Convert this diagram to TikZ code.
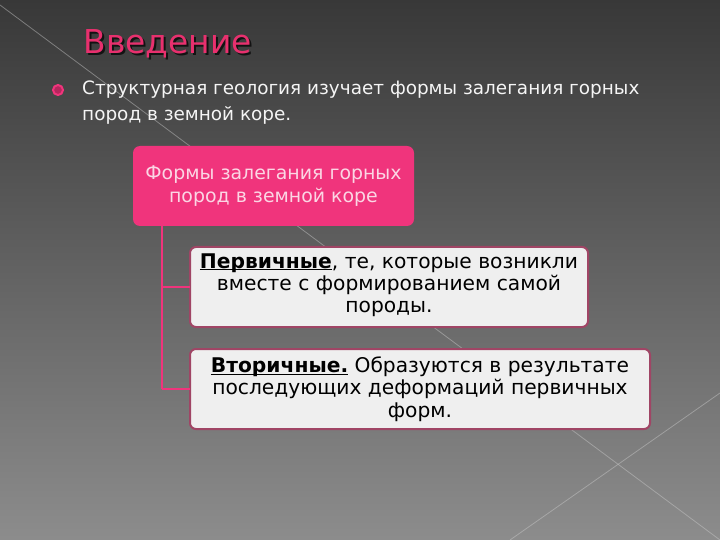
\documentclass[tikz,border=0pt]{standalone}
\usepackage{fontspec}
\setmainfont{DejaVu Sans}
\usetikzlibrary{positioning}
\newcommand{\keyword}[1]{\underline{\smash{\textbf{#1}}}}

\begin{document}
\begin{tikzpicture}[x=1bp,y=-1bp]
    \definecolor{slide_pink}{HTML}{F0347C}
    \definecolor{title_pink}{HTML}{E8306E}
    \definecolor{box_edge}{HTML}{A04565}
    \definecolor{box_fill}{HTML}{EFEFEF}
    \definecolor{root_text}{HTML}{FBD6E4}
    \tikzset{
        rootbox/.style={fill=slide_pink, rounded corners=7bp, text=root_text,
            align=center, minimum width=281bp, minimum height=80bp, inner sep=0pt,
            font=\fontsize{19}{23}\selectfont},
        leafbox/.style={fill=box_fill, draw=box_edge, line width=2bp, rounded corners=6bp,
            text=black, align=center, minimum height=80bp, inner sep=0pt,
            font=\fontsize{20.3}{22.5}\selectfont},
        branch/.style={draw=slide_pink, line width=1.8bp}
    }
    %\draw[help lines] (0,0) grid (720,540);
    \useasboundingbox (0,0) rectangle (720,540);
    \shade[top color=black!78, bottom color=black!45] (0,0) rectangle (720,540);
    \draw[white!60!gray, opacity=0.45, line width=0.8bp] (0,5) -- (720,540);
    \draw[white!60!gray, opacity=0.45, line width=0.8bp] (720,393) -- (510,540);

    \node[anchor=west, text=black, opacity=0.7, font=\fontsize{33}{36}\selectfont]
        (titleshadow) at (82,46) {Введение};
    \node[anchor=west, text=title_pink, font=\fontsize{33}{36}\selectfont]
        (title) at (80,44) {Введение};

    \node[circle, fill=slide_pink!75!black, draw=slide_pink, line width=2bp,
        minimum size=10bp, inner sep=0pt] (bullet) at (58,90) {};
    \node[anchor=west, text=white!92!gray, align=left, inner sep=0pt,
        font=\fontsize{18.5}{26}\selectfont] (intro) at (82,103)
        {Структурная геология изучает формы залегания горных\\
         пород в земной коре.};

    \node[rootbox] (root) at (273.5,186)
        {Формы залегания горных\\пород в земной коре};
    \node[leafbox, minimum width=398bp] (prim) at (389,287)
        {\keyword{Первичные}, те, которые возникли\\
         вместе с формированием самой\\породы.};
    \node[leafbox, minimum width=460bp] (sec) at (420,389)
        {\keyword{Вторичные.} Образуются в результате\\
         последующих деформаций первичных\\форм.};

    \coordinate (trunk) at ([xshift=29bp]root.south west);
    \coordinate (trunkend) at (trunk |- sec.west);
    \draw[branch] (trunk) -- (trunkend);
    \draw[branch] (trunkend) -- ([xshift=1bp]sec.west);
    \draw[branch] (trunk |- prim.west) -- ([xshift=1bp]prim.west);
\end{tikzpicture}
\end{document}
